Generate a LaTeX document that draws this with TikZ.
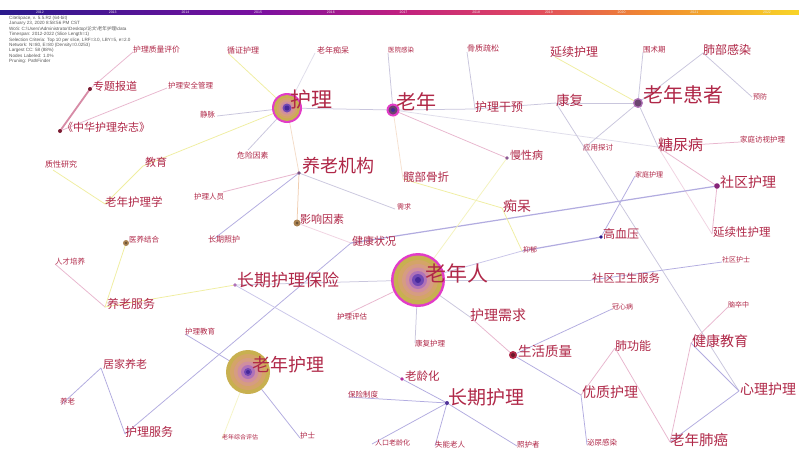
\documentclass[tikz,border=0pt]{standalone}
\usepackage{fontspec}
\newfontfamily\cjk{Noto Sans CJK SC}
\newfontfamily\hdr{Liberation Sans}
\definecolor{txt}{HTML}{B02848}
\definecolor{eg}{HTML}{C9C6DD}
\definecolor{ep}{HTML}{E8B6CE}
\definecolor{ey}{HTML}{F0EEA0}
\definecolor{eu}{HTML}{B2ACE0}
\definecolor{eo}{HTML}{F0CDB0}
\definecolor{ringm}{HTML}{E23CC8}
\definecolor{ol}{HTML}{C8B050}
\definecolor{r2}{HTML}{D4A468}
\definecolor{r3}{HTML}{D69C82}
\definecolor{r4}{HTML}{D08EA0}
\definecolor{r5}{HTML}{B072B8}
\definecolor{r6}{HTML}{7048B4}
\definecolor{r7}{HTML}{46289A}
\definecolor{b1}{HTML}{2A1A8C}
\definecolor{b2}{HTML}{7A10A0}
\definecolor{b3}{HTML}{C02080}
\definecolor{b4}{HTML}{E04860}
\definecolor{b5}{HTML}{F08A30}
\definecolor{b6}{HTML}{F8D428}
\tikzset{
  lab/.style={anchor=west,inner sep=0pt,text=txt,font={\cjk\fontsize{#1}{#1}\selectfont}},
  edg/.style={draw=#1,line width=0.75pt},
  dotn/.style={fill=#1,circle,inner sep=0pt,minimum size=4pt},
}
\begin{document}
\begin{tikzpicture}[x=1pt,y=-1pt]
\useasboundingbox (0,0) rectangle (799,450);
\fill[white] (0,0) rectangle (799,450);
% time bar
\shade[left color=b1,right color=b2] (0,10) rectangle (260,14);
\shade[left color=b2,right color=b3] (259.5,10) rectangle (400,14);
\shade[left color=b3,right color=b4] (399.5,10) rectangle (530,14);
\shade[left color=b4,right color=b5] (529.5,10) rectangle (650,14);
\shade[left color=b5,right color=b6] (649.5,10) rectangle (799,14);
\foreach \i [count=\k from 0] in {2012,...,2022}
  \node[inner sep=0pt,text=white!85!gray,font={\hdr\fontsize{3.5}{4}\selectfont}] (yr\k) at ({40+72.7*\k},12) {\i};
% header
\node[anchor=north west,inner sep=0pt,align=left,text=black!65,font={\hdr\fontsize{4.6}{5.4}\selectfont}] (hdr) at (9,16)
{CiteSpace, v. 5.5.R2 (64-bit)\\
January 23, 2020 8:58:56 PM CST\\
WoS: C:\textbackslash Users\textbackslash Administrator\textbackslash Desktop\textbackslash {\cjk 论文}\textbackslash{\cjk 老年护理}\textbackslash data\\
Timespan: 2012-2022 (Slice Length=1)\\
Selection Criteria: Top 10 per slice, LRF=3.0, LBY=5, e=2.0\\
Network: N=80, E=80 (Density=0.0253)\\
Largest CC: 58 (88\%)\\
Nodes Labeled: 1.0\%\\
Pruning: PathFinder};
% node positions
\coordinate (hl) at (287,108);
\coordinate (ln) at (393,110);
\coordinate (lnhz) at (638,103);
\coordinate (lnr) at (418,280);
\coordinate (lnhl) at (248,372);
\coordinate (cqhl) at (447,403);
\coordinate (yljg) at (299,173);
\coordinate (cqbx) at (235,285);
\coordinate (ztbd) at (90,89);
\coordinate (zhzz) at (60,131);
\coordinate (jy) at (143,166);
\coordinate (lnhlx) at (105,204);
\coordinate (yyjh) at (126,243);
\coordinate (rcpy) at (55,264);
\coordinate (ylfw) at (105,307);
\coordinate (yxys) at (297,223);
\coordinate (jkzk) at (351,243);
\coordinate (kbgz) at (403,179);
\coordinate (xq) at (395,209);
\coordinate (mxb) at (507,158);
\coordinate (cd) at (502,208);
\coordinate (hlgy) at (475,109);
\coordinate (kf) at (556,103);
\coordinate (yytt) at (583,149);
\coordinate (jthl) at (635,176);
\coordinate (gxy) at (601,237);
\coordinate (yy) at (522,251);
\coordinate (yxhl) at (555,57);
\coordinate (wsq) at (643,52);
\coordinate (fbgr) at (703,53);
\coordinate (yf) at (752,97);
\coordinate (tnb) at (658,147);
\coordinate (jtfs) at (740,142);
\coordinate (sqhl) at (717,186);
\coordinate (yxxhl) at (712,234);
\coordinate (sqhs) at (722,262);
\coordinate (sqws) at (591,280);
\coordinate (hlxq) at (470,317);
\coordinate (shzl) at (513,355);
\coordinate (gxb) at (612,309);
\coordinate (nzz) at (728,307);
\coordinate (fgn) at (615,348);
\coordinate (jkjy) at (691,343);
\coordinate (yzhl) at (581,395);
\coordinate (xlhl) at (739,391);
\coordinate (mngr) at (587,445);
\coordinate (lnfa) at (670,442);
\coordinate (hlpg) at (337,319);
\coordinate (kfhl) at (415,343);
\coordinate (llh) at (402,379);
\coordinate (bxzd) at (348,397);
\coordinate (rklh) at (372,444);
\coordinate (snlr) at (435,446);
\coordinate (zhz) at (517,446);
\coordinate (hljy) at (185,334);
\coordinate (jjyl) at (101,368);
\coordinate (yl) at (62,404);
\coordinate (hlfw) at (125,434);
\coordinate (lnzh) at (222,439);
\coordinate (hs) at (300,438);
\coordinate (hlzl) at (133,52);
\coordinate (xzhl) at (229,54);
\coordinate (lnch) at (315,53);
\coordinate (yygr) at (388,53);
\coordinate (gzss) at (467,52);
\coordinate (jm) at (217,116);
\coordinate (wxys) at (248,150);
\coordinate (hlry) at (223,192);
\coordinate (cqzh) at (215,238);
\coordinate (hlaq) at (167,88);
\coordinate (zxyj) at (53,170);
% edges
\draw[edg=ep] (ztbd) -- (hlzl);
\draw[draw=ep!70!txt,line width=1.8pt] (ztbd) -- (zhzz);
\draw[edg=ep] (zhzz) -- (hlaq);
\draw[edg=eg] (hl) -- (jm);
\draw[edg=ey] (hl) -- (xzhl);
\draw[edg=eg!60] (hl) -- (lnch);
\draw[edg=eg] (hl) -- (ln);
\draw[edg=ey] (hl) -- (jy);
\draw[edg=eg] (hl) -- (wxys);
\draw[edg=eo!70] (hl) -- (yljg);
\draw[edg=ey] (jy) -- (lnhlx);
\draw[edg=ey] (lnhlx) -- (zxyj);
\draw[edg=ep] (yljg) -- (hlry);
\draw[edg=eu] (yljg) -- (cqzh);
\draw[edg=eo] (yljg) -- (yxys);
\draw[edg=eg] (yljg) -- (xq);
\draw[edg=eg] (ln) -- (yygr);
\draw[edg=eg] (ln) -- (hlgy);
\draw[edg=eg] (hlgy) -- (gzss);
\draw[edg=eo!60] (ln) -- (kbgz);
\draw[edg=ep] (ln) -- (mxb);
\draw[edg=eg!60] (ln) -- (tnb);
\draw[edg=eg] (hlgy) -- (kf);
\draw[edg=eg] (kf) -- (lnhz);
\draw[edg=ey] (lnhz) -- (yxhl);
\draw[edg=eg] (lnhz) -- (wsq);
\draw[edg=eg] (lnhz) -- (fbgr);
\draw[edg=eg] (fbgr) -- (yf);
\draw[edg=eg] (lnhz) -- (yytt);
\draw[edg=eg] (lnhz) -- (tnb);
\draw[edg=ep] (tnb) -- (jtfs);
\draw[edg=ep] (tnb) -- (sqhl);
\draw[edg=ep!60] (tnb) -- (yxxhl);
\draw[edg=ep] (sqhl) -- (yxxhl);
\draw[edg=eg] (kf) -- (xlhl);
\draw[edg=ep] (jkjy) -- (nzz);
\draw[edg=eu] (jkjy) -- (xlhl);
\draw[edg=ep] (jkjy) -- (lnfa);
\draw[edg=eu] (xlhl) -- (lnfa);
\draw[draw=eu,line width=1.2pt] (jkzk) -- (sqhl);
\draw[edg=eu] (jthl) -- (gxy);
\draw[draw=eu,line width=1.2pt] (gxy) -- (yy);
\draw[edg=eu!70] (lnr) -- (yy);
\draw[edg=eu] (sqws) -- (sqhs);
\draw[edg=eg] (lnr) -- (sqws);
\draw[edg=ey] (kbgz) -- (cd);
\draw[edg=ey] (cd) -- (yy);
\draw[edg=ey!70] (mxb) -- (lnr);
\draw[edg=ep!60] (yxys) -- (jkzk);
\draw[edg=eu] (jkzk) -- (hlfw);
\draw[edg=eg] (cqbx) -- (lnr);
\draw[edg=ey] (cqbx) -- (ylfw);
\draw[edg=eu!70] (cqbx) -- (llh);
\draw[edg=eu] (llh) -- (cqhl);
\draw[edg=ep] (ylfw) -- (rcpy);
\draw[edg=ey] (ylfw) -- (yyjh);
\draw[edg=eu] (hljy) -- (lnhl);
\draw[edg=ey!60] (lnhl) -- (lnzh);
\draw[edg=eu] (lnhl) -- (hs);
\draw[edg=ep] (lnr) -- (hlpg);
\draw[edg=eg] (lnr) -- (kfhl);
\draw[edg=eg] (lnr) -- (hlxq);
\draw[edg=ep] (hlxq) -- (shzl);
\draw[edg=eu] (shzl) -- (gxb);
\draw[edg=eu] (shzl) -- (yzhl);
\draw[edg=ep] (yzhl) -- (fgn);
\draw[edg=eu] (yzhl) -- (mngr);
\draw[edg=ep] (fgn) -- (lnfa);
\draw[edg=eu] (cqhl) -- (bxzd);
\draw[edg=eu] (cqhl) -- (rklh);
\draw[edg=eu] (cqhl) -- (snlr);
\draw[edg=eu] (cqhl) -- (zhz);
\draw[edg=eu] (jjyl) -- (yl);
\draw[edg=eu] (jjyl) -- (hlfw);
% big circles
\foreach \r/\c in {15/ringm,13/ol,10.5/r2,8.5/r3,6.5/r4,4.5/r6,2.5/r7}
  \fill[\c] (hl) circle[radius=\r pt];
\foreach \r/\c in {27/ringm,24.5/ol,20/r2,16/r3,12.5/r4,9/r5,6/r6,3/r7}
  \fill[\c] (lnr) circle[radius=\r pt];
\foreach \r/\c in {22/ol,18/r2,14/r3,10.5/r4,7/r5,4/r6,2/r7}
  \fill[\c] (lnhl) circle[radius=\r pt];
\foreach \r/\c in {6.5/ringm,4.5/r5!60!black,2/r7}
  \fill[\c] (ln) circle[radius=\r pt];
\foreach \r/\c in {5/r5,3.5/r5!60!black}
  \fill[\c] (lnhz) circle[radius=\r pt];
% small dots
\fill[txt!70!black] (ztbd) circle[radius=2pt];
\fill[txt!70!black] (zhzz) circle[radius=2pt];
\fill[r5!70!black] (yljg) circle[radius=1.8pt];
\fill[r5] (cqbx) circle[radius=1.8pt];
\fill[r5!80!black] (mxb) circle[radius=1.8pt];
\fill[r2!80!black] (yxys) circle[radius=3.5pt];
\fill[r2!50!black] (yxys) circle[radius=1.5pt];
\fill[r2!80!black] (yyjh) circle[radius=3pt];
\fill[r2!50!black] (yyjh) circle[radius=1.3pt];
\fill[txt] (shzl) circle[radius=4pt];
\fill[txt!60!black] (shzl) circle[radius=2pt];
\fill[ringm!60!black] (sqhl) circle[radius=2.8pt];
\fill[b1] (gxy) circle[radius=1.8pt];
\fill[b1!70!r5] (cqhl) circle[radius=2pt];
\fill[ringm!80!black] (llh) circle[radius=1.8pt];
% labels
\node[lab=21] (hl-t) at (290,100) {护理};
\node[lab=20] (ln-t) at (396,102) {老年};
\node[lab=20] (lnhz-t) at (643,95) {老年患者};
\node[lab=21] (lnr-t) at (425,273) {老年人};
\node[lab=18] (lnhl-t) at (252,365) {老年护理};
\node[lab=19] (cqhl-t) at (448,397) {长期护理};
\node[lab=18] (yljg-t) at (302,166) {养老机构};
\node[lab=17] (cqbx-t) at (237,280) {长期护理保险};
\node[lab=11] (ztbd-t) at (93,86) {专题报道};
\node[lab=11] (zhzz-t) at (62,127) {《中华护理杂志》};
\node[lab=11] (jy-t) at (145,162) {教育};
\node[lab=11.5] (lnhlx-t) at (105,202) {老年护理学};
\node[lab=7.5] (yyjh-t) at (129,240) {医养结合};
\node[lab=7.5] (rcpy-t) at (55,262) {人才培养};
\node[lab=12] (ylfw-t) at (107,304) {养老服务};
\node[lab=11] (yxys-t) at (300,219) {影响因素};
\node[lab=11] (jkzk-t) at (352,241) {健康状况};
\node[lab=11.5] (kbgz-t) at (403,177) {髋部骨折};
\node[lab=7] (xq-t) at (397,207) {需求};
\node[lab=11] (mxb-t) at (510,155) {慢性病};
\node[lab=14] (cd-t) at (503,206) {痴呆};
\node[lab=12] (hlgy-t) at (475,107) {护理干预};
\node[lab=13.5] (kf-t) at (556,100) {康复};
\node[lab=7.5] (yytt-t) at (583,148) {应用探讨};
\node[lab=7] (jthl-t) at (635,175) {家庭护理};
\node[lab=12] (gxy-t) at (603,234) {高血压};
\node[lab=7] (yy-t) at (523,250) {抑郁};
\node[lab=12] (yxhl-t) at (550,52) {延续护理};
\node[lab=7.5] (wsq-t) at (643,50) {围术期};
\node[lab=12] (fbgr-t) at (703,50) {肺部感染};
\node[lab=7] (yf-t) at (753,97) {预防};
\node[lab=15] (tnb-t) at (658,145) {糖尿病};
\node[lab=7.5] (jtfs-t) at (740,140) {家庭访视护理};
\node[lab=14] (sqhl-t) at (720,182) {社区护理};
\node[lab=11.5] (yxxhl-t) at (713,232) {延续性护理};
\node[lab=7] (sqhs-t) at (722,260) {社区护士};
\node[lab=11.3] (sqws-t) at (592,278) {社区卫生服务};
\node[lab=14] (hlxq-t) at (470,315) {护理需求};
\node[lab=13.5] (shzl-t) at (518,351) {生活质量};
\node[lab=7] (gxb-t) at (612,307) {冠心病};
\node[lab=7] (nzz-t) at (728,305) {脑卒中};
\node[lab=12] (fgn-t) at (615,346) {肺功能};
\node[lab=14] (jkjy-t) at (692,341) {健康教育};
\node[lab=14] (yzhl-t) at (582,392) {优质护理};
\node[lab=14] (xlhl-t) at (740,389) {心理护理};
\node[lab=7.5] (mngr-t) at (587,443) {泌尿感染};
\node[lab=14.5] (lnfa-t) at (670,440) {老年肺癌};
\node[lab=7.5] (hlpg-t) at (337,317) {护理评估};
\node[lab=7.5] (kfhl-t) at (415,344) {康复护理};
\node[lab=11.5] (llh-t) at (405,376) {老龄化};
\node[lab=7.5] (bxzd-t) at (348,395) {保险制度};
\node[lab=7] (rklh-t) at (375,443) {人口老龄化};
\node[lab=7.5] (snlr-t) at (435,445) {失能老人};
\node[lab=7.5] (zhz-t) at (517,445) {照护者};
\node[lab=7.5] (hljy-t) at (185,332) {护理教育};
\node[lab=11] (jjyl-t) at (103,364) {居家养老};
\node[lab=7.5] (yl-t) at (60,402) {养老};
\node[lab=12] (hlfw-t) at (125,432) {护理服务};
\node[lab=6] (lnzh-t) at (222,437) {老年综合评估};
\node[lab=7.5] (hs-t) at (300,436) {护士};
\node[lab=7.8] (hlzl-t) at (133,50) {护理质量评价};
\node[lab=8] (xzhl-t) at (227,50) {循证护理};
\node[lab=8] (lnch-t) at (317,50) {老年痴呆};
\node[lab=6.5] (yygr-t) at (388,50) {医院感染};
\node[lab=8] (gzss-t) at (467,48) {骨质疏松};
\node[lab=7.5] (jm-t) at (200,115) {静脉};
\node[lab=7.8] (wxys-t) at (237,156) {危险因素};
\node[lab=7.5] (hlry-t) at (194,197) {护理人员};
\node[lab=8] (cqzh-t) at (208,239) {长期照护};
\node[lab=7.5] (hlaq-t) at (168,86) {护理安全管理};
\node[lab=8] (zxyj-t) at (45,164) {质性研究};
\end{tikzpicture}
\end{document}
